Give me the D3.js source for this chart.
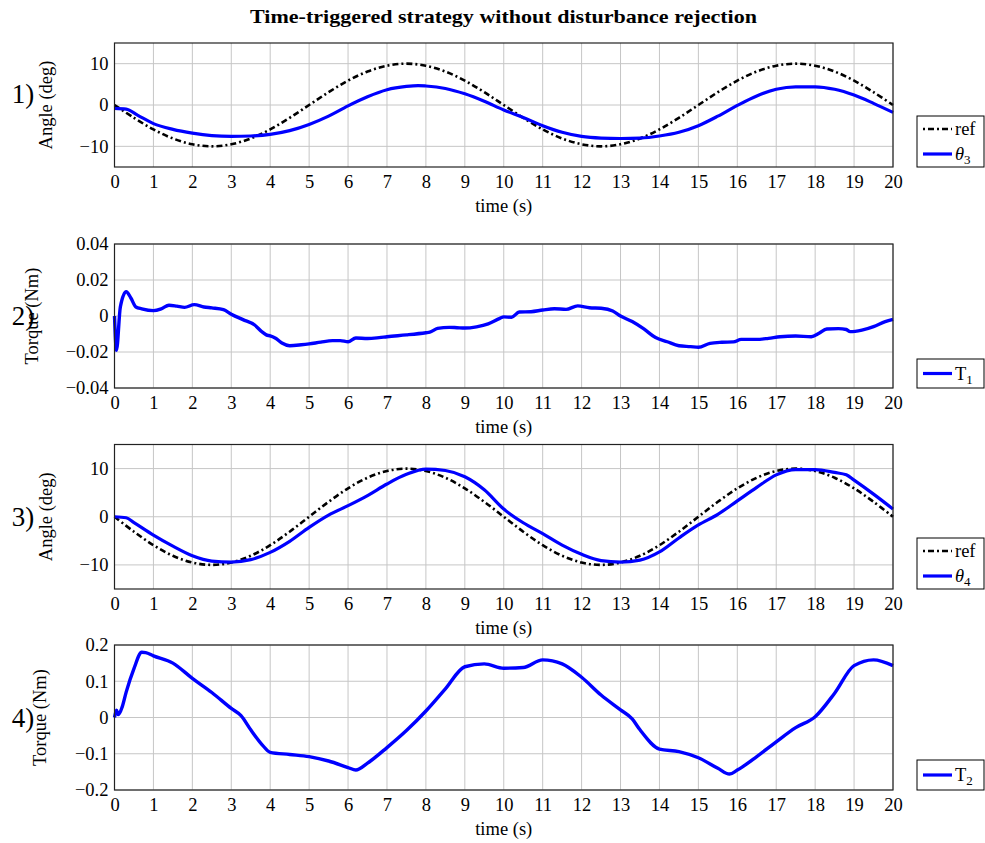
<!DOCTYPE html>
<html><head><meta charset="utf-8">
<script src="https://cdn.jsdelivr.net/npm/d3@7"></script>
<style>
body{margin:0;background:#fff}
text{font-family:"Liberation Serif","Times New Roman",serif;fill:#000}
</style>
</head><body>
<svg id="chart" width="985" height="843"></svg>
<script>
// ---------------- data ----------------
const chartTitle = "Time-triggered strategy without disturbance rejection";
const timeTicks = d3.range(0, 21, 1);
const angleTicks = [-10, 0, 10];
const angleTickLabels = ["\u221210", "0", "10"];
const torque1Ticks = [-0.04, -0.02, 0, 0.02, 0.04];
const torque1TickLabels = ["\u22120.04", "\u22120.02", "0", "0.02", "0.04"];
const torque2Ticks = [-0.2, -0.1, 0, 0.1, 0.2];
const torque2TickLabels = ["\u22120.2", "\u22120.1", "0", "0.1", "0.2"];

// reference trajectory [time s, angle deg]
const refAngle = [[0,0],[0.5,-3.1],[1,-5.9],[1.5,-8.1],[2,-9.5],[2.5,-10],[3,-9.5],[3.5,-8.1],[4,-5.9],[4.5,-3.1],[5,0],
 [5.5,3.1],[6,5.9],[6.5,8.1],[7,9.5],[7.5,10],[8,9.5],[8.5,8.1],[9,5.9],[9.5,3.1],[10,0],
 [10.5,-3.1],[11,-5.9],[11.5,-8.1],[12,-9.5],[12.5,-10],[13,-9.5],[13.5,-8.1],[14,-5.9],[14.5,-3.1],[15,0],
 [15.5,3.1],[16,5.9],[16.5,8.1],[17,9.5],[17.5,10],[18,9.5],[18.5,8.1],[19,5.9],[19.5,3.1],[20,0]];

// theta3 [time s, angle deg]
const theta3 = [[0,-0.8],[0.3,-1.0],[0.6,-2.5],[1,-4.5],[1.5,-5.9],[2,-6.8],[2.5,-7.4],[3,-7.6],[3.5,-7.5],[4,-7.1],
 [4.5,-6.2],[5,-4.7],[5.5,-2.7],[6,-0.2],[6.5,2.0],[7,3.7],[7.5,4.5],[7.8,4.7],[8,4.6],[8.5,4.0],[9,2.7],[9.5,0.9],
 [10,-1.2],[10.5,-3.0],[11,-5.0],[11.5,-6.6],[12,-7.6],[12.5,-8.0],[13,-8.1],[13.5,-8.0],[14,-7.5],[14.5,-6.6],
 [15,-5.0],[15.5,-2.7],[16,-0.1],[16.5,2.2],[17,3.8],[17.5,4.4],[18,4.4],[18.5,3.8],[19,2.4],[19.5,0.4],[20,-1.8]];

// T1 [time s, torque Nm]
const torque1 = [[0,0.0],[0.05,-0.019],[0.15,0.005],[0.3,0.0135],[0.42,0.010],[0.55,0.005],[0.7,0.004],[1.0,0.003],
 [1.2,0.004],[1.4,0.006],[1.6,0.0055],[1.8,0.0048],[2.05,0.0063],[2.3,0.005],[2.5,0.0045],[2.8,0.0035],[3.0,0.001],
 [3.3,-0.002],[3.6,-0.005],[3.8,-0.009],[3.9,-0.0105],[4.0,-0.011],[4.15,-0.0125],[4.3,-0.015],[4.5,-0.0165],
 [4.8,-0.016],[5.0,-0.0155],[5.3,-0.0145],[5.6,-0.0137],[5.8,-0.0137],[6.0,-0.0143],[6.2,-0.0122],[6.5,-0.0125],
 [6.8,-0.012],[7.0,-0.0115],[7.5,-0.0105],[8.0,-0.0093],[8.1,-0.009],[8.3,-0.0069],[8.6,-0.0063],[8.8,-0.0065],
 [9.0,-0.0067],[9.3,-0.006],[9.6,-0.0044],[9.9,-0.0013],[10.0,-0.0005],[10.2,-0.0007],[10.4,0.0022],[10.7,0.0024],
 [11.0,0.0033],[11.3,0.004],[11.6,0.0037],[11.9,0.0056],[12.2,0.0046],[12.5,0.0043],[12.8,0.0028],[13.0,0.0],
 [13.3,-0.0031],[13.6,-0.0072],[13.9,-0.012],[14.2,-0.0143],[14.5,-0.0165],[14.8,-0.017],[15.0,-0.0174],
 [15.3,-0.0152],[15.6,-0.0146],[15.9,-0.0144],[16.1,-0.013],[16.5,-0.013],[16.8,-0.0124],[17.1,-0.0115],
 [17.5,-0.0111],[17.9,-0.0115],[18.1,-0.0096],[18.3,-0.0072],[18.6,-0.007],[18.8,-0.0075],[18.9,-0.0087],
 [19.2,-0.0078],[19.5,-0.0059],[19.8,-0.0031],[20.0,-0.0019]];

// theta4 [time s, angle deg]
const theta4 = [[0,0],[0.3,-0.2],[0.5,-1.2],[1,-3.8],[1.5,-6.1],[2,-8.1],[2.5,-9.2],[3,-9.4],[3.5,-8.9],[4,-7.4],
 [4.5,-5.1],[5,-2.2],[5.5,0.35],[6,2.3],[6.5,4.4],[7,6.8],[7.5,8.8],[8,9.9],[8.5,9.6],[9,8.3],[9.5,5.6],[10,1.6],
 [10.5,-1.25],[11,-3.5],[11.5,-5.9],[12,-7.8],[12.5,-9.1],[13,-9.4],[13.5,-9.0],[14,-7.3],[14.5,-4.4],[15,-1.7],
 [15.5,0.5],[16,3.3],[16.5,6.1],[17,8.7],[17.5,9.8],[18,9.8],[18.5,9.2],[18.8,8.7],[19,7.6],[19.5,4.7],[20,1.6]];

// T2 [time s, torque Nm]
const torque2 = [[0,0.0],[0.05,0.02],[0.1,0.008],[0.2,0.03],[0.3,0.07],[0.5,0.135],[0.7,0.18],[0.8,0.179],[1,0.17],
 [1.5,0.15],[2,0.108],[2.5,0.069],[3,0.025],[3.25,0.005],[3.5,-0.034],[3.8,-0.076],[4,-0.096],[4.5,-0.102],
 [5,-0.108],[5.5,-0.12],[6,-0.138],[6.2,-0.145],[6.5,-0.126],[7,-0.083],[7.5,-0.036],[8,0.018],[8.5,0.079],
 [9,0.14],[9.5,0.148],[10,0.136],[10.5,0.138],[11,0.159],[11.5,0.148],[12,0.111],[12.5,0.062],[13,0.021],
 [13.3,-0.004],[13.5,-0.034],[14,-0.087],[14.5,-0.094],[15,-0.111],[15.5,-0.14],[15.8,-0.156],[16,-0.145],
 [16.5,-0.108],[17,-0.067],[17.5,-0.028],[18,0.002],[18.5,0.067],[19,0.143],[19.5,0.159],[20,0.143]];

// ---------------- layout ----------------
const svg = d3.select("#chart");
const FONT = '"Liberation Serif","Times New Roman",serif';
const FS = "18.5px";
const X0 = 114.5, X1 = 893;
const x = d3.scaleLinear().domain([0, 20]).range([X0, X1]);

const panels = [
  {num:"1)", top:43, bottom:167, dom:[-15,15], ticks:angleTicks, labels:angleTickLabels, ylab:"Angle (deg)", ylabX:52,
   series:[{data:refAngle, kind:"ref"}, {data:theta3, kind:"blue", name:"\u03B8", sub:"3"}], legH:51},
  {num:"2)", top:244, bottom:388, dom:[-0.04,0.04], ticks:torque1Ticks, labels:torque1TickLabels, ylab:"Torque (Nm)", ylabX:38,
   series:[{data:torque1, kind:"blue", name:"T", sub:"1", roman:true}], legH:29},
  {num:"3)", top:444.5, bottom:589, dom:[-15,15], ticks:angleTicks, labels:angleTickLabels, ylab:"Angle (deg)", ylabX:52,
   series:[{data:refAngle, kind:"ref"}, {data:theta4, kind:"blue", name:"\u03B8", sub:"4"}], legH:51},
  {num:"4)", top:645, bottom:790, dom:[-0.2,0.2], ticks:torque2Ticks, labels:torque2TickLabels, ylab:"Torque (Nm)", ylabX:46,
   series:[{data:torque2, kind:"blue", name:"T", sub:"2", roman:true}], legH:30}
];

svg.append("text").attr("x", 503.5).attr("y", 23).attr("text-anchor","middle")
  .attr("textLength", 507).attr("lengthAdjust","spacingAndGlyphs")
  .style("font-weight","bold").style("font-size","19px").text(chartTitle);

const GRID = "#c6c6c6";
const DASH = "6,3,2,3";

panels.forEach(p => {
  const y = d3.scaleLinear().domain(p.dom).range([p.bottom, p.top]);
  const g = svg.append("g");
  // grid
  g.append("g").selectAll("line").data(timeTicks).join("line")
    .attr("x1", d => x(d)).attr("x2", d => x(d)).attr("y1", p.top).attr("y2", p.bottom)
    .attr("stroke", GRID).attr("stroke-width", 1);
  g.append("g").selectAll("line").data(p.ticks).join("line")
    .attr("x1", X0).attr("x2", X1).attr("y1", d => y(d)).attr("y2", d => y(d))
    .attr("stroke", GRID).attr("stroke-width", 1);
  // axes labels
  const ax = g.append("g").attr("transform", `translate(0,${p.bottom})`)
    .call(d3.axisBottom(x).tickValues(timeTicks).tickSize(0).tickPadding(8).tickFormat(d3.format("d")))
    .attr("font-family", FONT).attr("font-size", FS);
  ax.select(".domain").remove();
  ax.selectAll("text").attr("fill","#000");
  const ay = g.append("g").attr("transform", `translate(${X0},0)`)
    .call(d3.axisLeft(y).tickValues(p.ticks).tickSize(0).tickPadding(6).tickFormat((d,i) => p.labels[i]))
    .attr("font-family", FONT).attr("font-size", FS);
  ay.select(".domain").remove();
  ay.selectAll("text").attr("fill","#000");

  // series
  p.series.forEach(s => {
    const line = d3.line().x(d => x(d[0])).y(d => y(d[1]))
      .curve(s.kind === "ref" ? d3.curveCatmullRom : d3.curveMonotoneX);
    const path = g.append("path").datum(s.data).attr("d", line).attr("fill","none");
    if (s.kind === "ref") path.attr("stroke","#000").attr("stroke-width",2.6).attr("stroke-dasharray",DASH);
    else path.attr("stroke","#0000ff").attr("stroke-width", p.dom[1] < 1 ? 3.4 : 3.2).attr("stroke-linejoin","round");
  });

  // frame
  g.append("rect").attr("x", X0).attr("y", p.top).attr("width", X1 - X0).attr("height", p.bottom - p.top)
    .attr("fill","none").attr("stroke","#222").attr("stroke-width",1.2);

  // axis titles
  g.append("text").attr("x", (X0 + X1)/2).attr("y", p.bottom + 45).attr("text-anchor","middle")
    .style("font-size",FS).text("time (s)");
  const cy = (p.top + p.bottom)/2;
  g.append("text").attr("transform", `translate(${p.ylabX},${cy}) rotate(-90)`).attr("text-anchor","middle")
    .style("font-size",FS).text(p.ylab);
  g.append("text").attr("x", 23).attr("y", cy + (p.num === "1)" ? -2 : 9)).attr("text-anchor","middle")
    .style("font-size","27px").text(p.num);

  // legend
  const lx = 917, lw = 67, ly = p.bottom - p.legH;
  const lg = g.append("g");
  lg.append("rect").attr("x", lx).attr("y", ly).attr("width", lw).attr("height", p.legH)
    .attr("fill","#fff").attr("stroke","#000").attr("stroke-width",1);
  const rows = p.series.length;
  p.series.forEach((s, i) => {
    const ry = rows === 1 ? ly + p.legH/2 : ly + 13 + i*25;
    const sl = lg.append("line").attr("x1", lx + 6).attr("x2", lx + 35).attr("y1", ry).attr("y2", ry);
    if (s.kind === "ref") sl.attr("stroke","#000").attr("stroke-width",2.6).attr("stroke-dasharray","2,3,6,3");
    else sl.attr("stroke","#0000ff").attr("stroke-width",3.2);
    const t = lg.append("text").attr("x", lx + 38).attr("y", ry + 6).style("font-size",FS);
    if (s.kind === "ref") t.text("ref");
    else {
      t.append("tspan").style("font-style", s.roman ? "normal" : "italic").text(s.name);
      t.append("tspan").attr("dy", 4).style("font-size","13px").text(s.sub);
    }
  });
});
</script>
</body></html>
